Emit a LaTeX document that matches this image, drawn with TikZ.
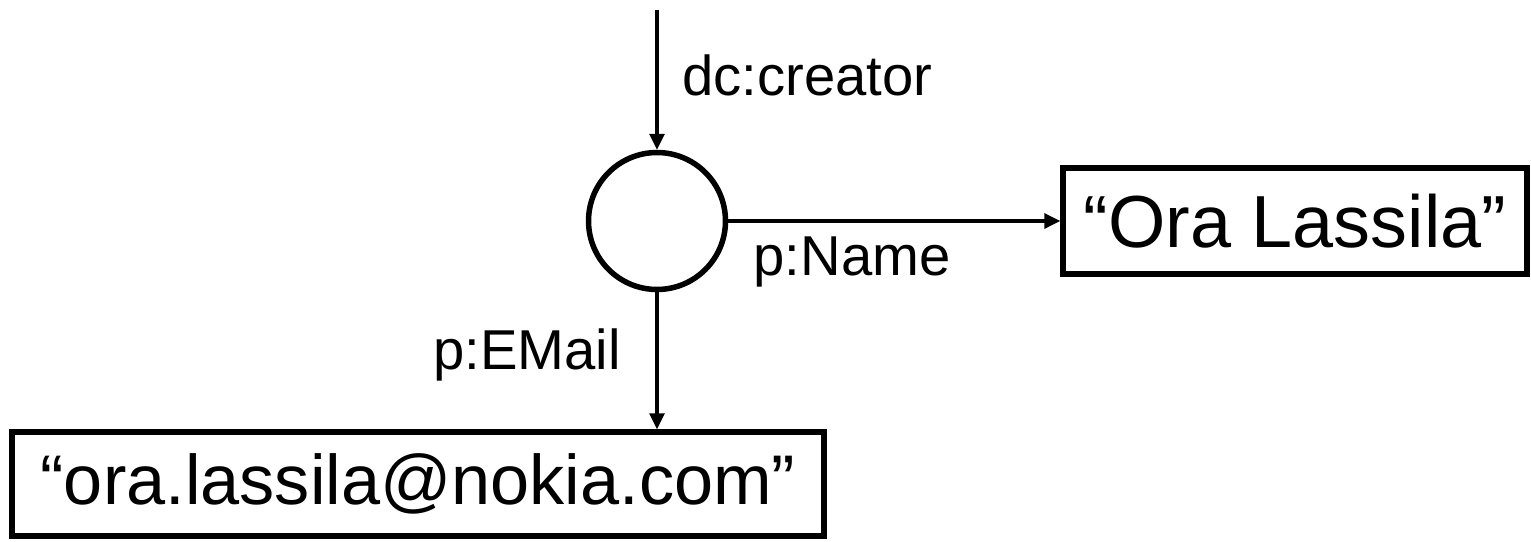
\documentclass[tikz,border=0pt]{standalone}
\usepackage{fontspec}
\setmainfont{Liberation Sans}
\usetikzlibrary{arrows.meta}
\begin{document}
\begin{tikzpicture}[x=0.02cm,y=-0.02cm]
\tikzstyle{every node}+=[inner sep=0pt]
\tikzstyle{literal}=[draw, line width=0.11cm, font=\fontsize{42}{50}\selectfont]
\tikzstyle{prop}=[font=\fontsize{32}{38}\selectfont]
\tikzstyle{link}=[line width=0.065cm, -{Triangle[length=0.32cm,width=0.3cm]}]
\useasboundingbox (0,0) rectangle (1531,541);
\coordinate (top) at (657,10);
\node [circle, draw, line width=0.11cm, minimum size=2.74cm] (blank) at (657,221) {};
\node [literal, minimum width=9.28cm, minimum height=2.12cm] (name) at (1295,221) {“Ora Lassila”};
\node [literal, minimum width=16.24cm, minimum height=2.08cm, font=\fontsize{40}{48}\selectfont] (email) at (418,484) {“ora.lassila@nokia.com”};
\draw [link] (top) -- (blank);
\draw [link] (blank) -- (name);
\draw [link] (blank) -- (blank |- email.north);
\draw (682,75) node [prop, anchor=west] {dc:creator};
\draw (852,262) node [prop] {p:Name};
\draw (527,355) node [prop] {p:EMail};
\end{tikzpicture}
\end{document}
